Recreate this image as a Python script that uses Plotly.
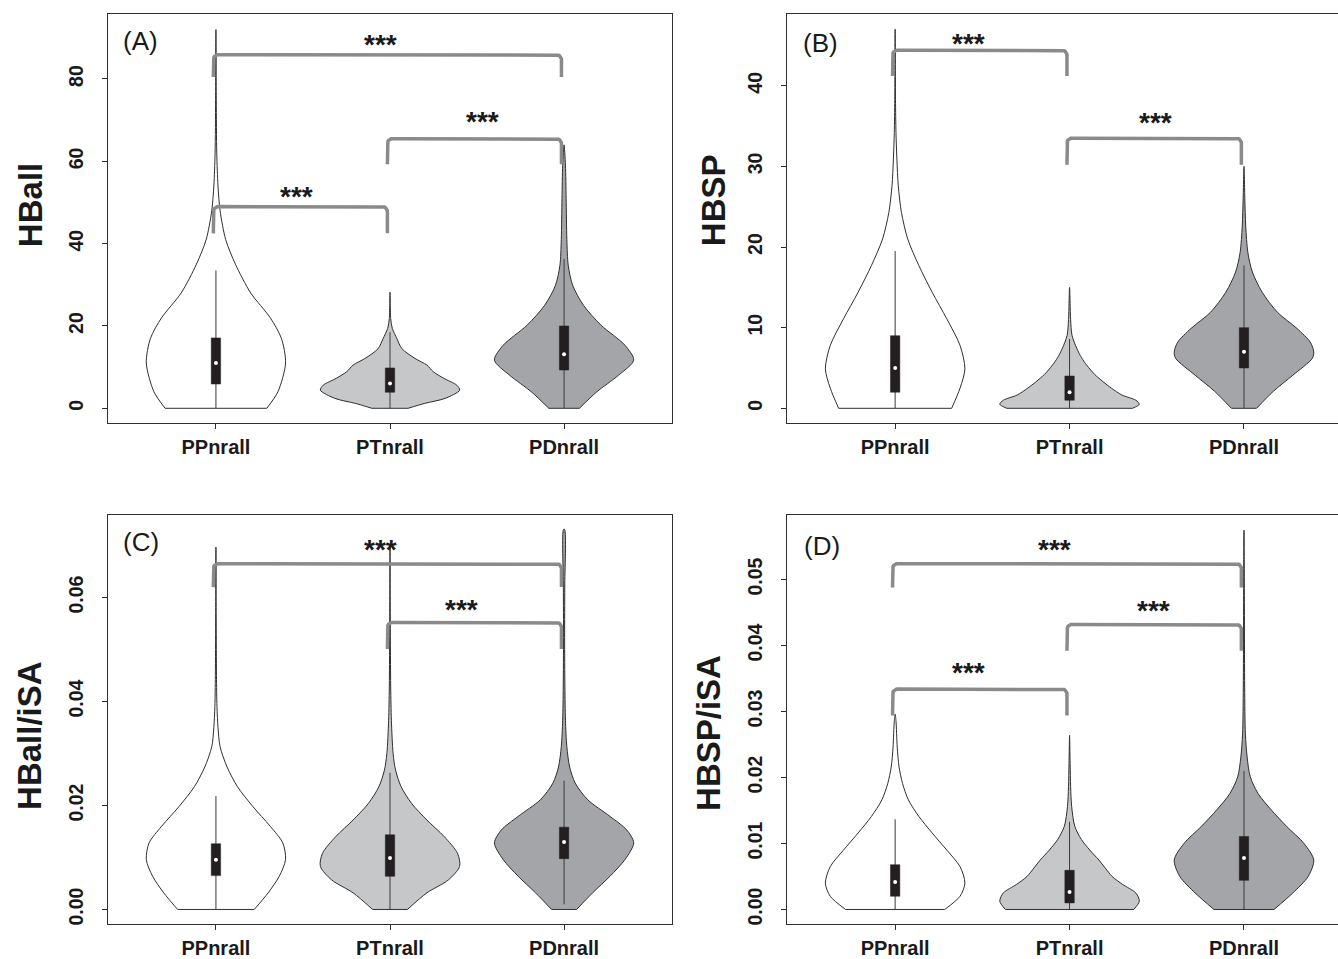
import numpy as np
import plotly.graph_objects as go

# ---------------- data ----------------
groups = ["PPnrall", "PTnrall", "PDnrall"]
group_fill = ["#ffffff", "#c6c7c9", "#a4a5a8"]

# violin profiles: value (y) and relative density (0..1)
A_PP_y = [0, 4, 11, 17, 22, 28, 35, 41, 48, 54, 62, 75, 92]
A_PP_w = [0.73, 0.89, 1.0, 0.94, 0.78, 0.50, 0.28, 0.14, 0.06, 0.03, 0.012, 0.005, 0]
A_PT_y = [0, 1.2, 2.4, 4.4, 5.6, 7.3, 8.9, 10.5, 12.1, 14.5, 16.9, 19.4, 21.8, 28.2]
A_PT_w = [0.26, 0.5, 0.79, 1.0, 0.96, 0.77, 0.62, 0.53, 0.36, 0.17, 0.1, 0.034, 0.01, 0]
A_PD_y = [0, 4, 8, 11.7, 15.3, 20.2, 25, 29.8, 34.7, 41, 51, 59, 64]
A_PD_w = [0.22, 0.47, 0.78, 1.0, 0.875, 0.53, 0.28, 0.125, 0.06, 0.04, 0.03, 0.02, 0]

B_PP_y = [0, 2.5, 4.9, 7.8, 11.1, 14.4, 17.7, 21, 24.3, 27.6, 30.9, 34.2, 38.3, 47]
B_PP_w = [0.81, 0.93, 1.0, 0.93, 0.74, 0.53, 0.34, 0.18, 0.09, 0.045, 0.025, 0.012, 0.005, 0]
B_PT_y = [0, 0.5, 1.0, 1.65, 2.5, 3.3, 4.2, 5.3, 6.3, 7.4, 9.05, 11, 15]
B_PT_w = [0.9, 1.0, 0.95, 0.75, 0.6, 0.48, 0.36, 0.25, 0.17, 0.105, 0.035, 0.015, 0]
B_PD_y = [0, 2.1, 4.1, 6.2, 7, 8.2, 9.9, 11.9, 14.4, 16.9, 19.3, 22.6, 26, 30]
B_PD_w = [0.18, 0.42, 0.7, 0.98, 1.0, 0.95, 0.76, 0.48, 0.26, 0.12, 0.056, 0.025, 0.012, 0]

C_PP_y = [0, 0.0032, 0.0064, 0.0096, 0.0128, 0.016, 0.0198, 0.0236, 0.0274, 0.0313, 0.035, 0.039, 0.045, 0.0555, 0.0697]
C_PP_w = [0.55, 0.75, 0.91, 1.0, 0.96, 0.78, 0.53, 0.31, 0.16, 0.06, 0.03, 0.015, 0.008, 0.004, 0]
C_PT_y = [0, 0.0032, 0.0057, 0.0083, 0.0108, 0.014, 0.0172, 0.0204, 0.0236, 0.0268, 0.03, 0.0364, 0.0428, 0.0555, 0.0696]
C_PT_w = [0.25, 0.53, 0.84, 1.0, 0.97, 0.78, 0.53, 0.31, 0.16, 0.08, 0.045, 0.02, 0.01, 0.004, 0]
C_PD_y = [0, 0.0032, 0.0064, 0.0096, 0.0128, 0.0153, 0.0179, 0.0211, 0.0243, 0.0274, 0.0313, 0.0364, 0.0428, 0.0523, 0.062, 0.0731]
C_PD_w = [0.18, 0.41, 0.66, 0.875, 1.0, 0.9, 0.66, 0.34, 0.16, 0.08, 0.04, 0.02, 0.012, 0.008, 0.01, 0.008]

D_PP_y = [0, 0.002, 0.004, 0.0065, 0.009, 0.0116, 0.0141, 0.0166, 0.0191, 0.0216, 0.0246, 0.0286, 0.0296]
D_PP_w = [0.71, 0.93, 1.0, 0.93, 0.74, 0.53, 0.34, 0.19, 0.106, 0.056, 0.03, 0.012, 0]
D_PT_y = [0, 0.00126, 0.0025, 0.0038, 0.005, 0.0063, 0.0075, 0.009, 0.0106, 0.0126, 0.0156, 0.0186, 0.0221, 0.0264]
D_PT_w = [0.92, 1.0, 0.95, 0.76, 0.61, 0.51, 0.42, 0.29, 0.17, 0.075, 0.03, 0.015, 0.008, 0]
D_PD_y = [0, 0.0025, 0.005, 0.0075, 0.01, 0.0126, 0.0151, 0.0176, 0.0201, 0.0231, 0.0266, 0.0337, 0.0437, 0.0513, 0.0575]
D_PD_w = [0.43, 0.7, 0.92, 1.0, 0.86, 0.61, 0.39, 0.2, 0.09, 0.045, 0.02, 0.01, 0.006, 0.004, 0]

# box statistics (per group PP, PT, PD)
A_q1 = [5.9, 3.9, 9.3];   A_med = [11.0, 6.0, 13.1];  A_q3 = [17.1, 9.8, 20.0]
A_wlo = [0, 0, 0];        A_whi = [33.5, 18.5, 36.3]
B_q1 = [2, 1, 5];         B_med = [5, 2, 7];          B_q3 = [9, 4, 10]
B_wlo = [0, 0, 0];        B_whi = [19.5, 8.6, 17.7]
C_q1 = [0.00651, 0.00638, 0.00977]; C_med = [0.00957, 0.0099, 0.01296]; C_q3 = [0.01264, 0.01436, 0.01583]
C_wlo = [0, 0, 0.001];    C_whi = [0.0218, 0.0263, 0.0248]
D_q1 = [0.00201, 0.001, 0.00442]; D_med = [0.00417, 0.00266, 0.00779]; D_q3 = [0.00678, 0.00593, 0.01106]
D_wlo = [0, 0, 0];        D_whi = [0.01367, 0.0133, 0.021]

# significance brackets
A_br_left = [1, 2, 1]; A_br_right = [3, 3, 2]
A_br_top = [85.9, 65.5, 49.0]; A_br_bot = [80.5, 59.3, 42.5]
A_star_x = [1.946, 2.53, 1.46]; A_star_y = [89.5, 70.8, 52.6]
B_br_left = [1, 2]; B_br_right = [2, 3]
B_br_top = [44.4, 33.5]; B_br_bot = [41.2, 30.2]
B_star_x = [1.42, 2.49]; B_star_y = [45.8, 36.1]
C_br_left = [1, 2]; C_br_right = [3, 3]
C_br_top = [0.0665, 0.0552]; C_br_bot = [0.0620, 0.0501]
C_star_x = [1.946, 2.41]; C_star_y = [0.0702, 0.0586]
D_br_left = [1, 2, 1]; D_br_right = [3, 3, 2]
D_br_top = [0.0524, 0.0432, 0.0334]; D_br_bot = [0.0488, 0.0392, 0.0294]
D_star_x = [1.916, 2.48, 1.42]; D_star_y = [0.0553, 0.0461, 0.0367]

A_yticks = [0, 20, 40, 60, 80]
B_yticks = [0, 10, 20, 30, 40]
C_yticks = [0.00, 0.02, 0.04, 0.06]
D_yticks = [0.00, 0.01, 0.02, 0.03, 0.04, 0.05]
ytitles = ["HBall", "HBSP", "HBall/iSA", "HBSP/iSA"]
panel_labels = ["(A)", "(B)", "(C)", "(D)"]

# ---------------- layout geometry (pixels) ----------------
W, H = 1338, 959
panels = [
    dict(key="A", xpx=(108, 672), ypx=(14, 425), xr=(0.38, 3.62), yr=(-3.63, 95.8),
         yt=A_yticks, fmt="d", mirror_y=True, title_pos=(30, 206), lab_pos=(140, 41),
         prof=[(A_PP_y, A_PP_w), (A_PT_y, A_PT_w), (A_PD_y, A_PD_w)],
         box=(A_q1, A_med, A_q3, A_wlo, A_whi),
         br=(A_br_left, A_br_right, A_br_top, A_br_bot, A_star_x, A_star_y)),
    dict(key="B", xpx=(787, 1338), ypx=(14, 425), xr=(0.38, 3.539), yr=(-1.85, 48.9),
         yt=B_yticks, fmt="d", mirror_y=False, title_pos=(713, 201), lab_pos=(820, 43),
         prof=[(B_PP_y, B_PP_w), (B_PT_y, B_PT_w), (B_PD_y, B_PD_w)],
         box=(B_q1, B_med, B_q3, B_wlo, B_whi),
         br=(B_br_left, B_br_right, B_br_top, B_br_bot, B_star_x, B_star_y)),
    dict(key="C", xpx=(108, 672), ypx=(517, 928), xr=(0.38, 3.62), yr=(-0.00282, 0.0759),
         yt=C_yticks, fmt=".2f", mirror_y=True, title_pos=(30, 739), lab_pos=(141, 544),
         prof=[(C_PP_y, C_PP_w), (C_PT_y, C_PT_w), (C_PD_y, C_PD_w)],
         box=(C_q1, C_med, C_q3, C_wlo, C_whi),
         br=(C_br_left, C_br_right, C_br_top, C_br_bot, C_star_x, C_star_y)),
    dict(key="D", xpx=(787, 1338), ypx=(517, 928), xr=(0.38, 3.539), yr=(-0.00222, 0.0598),
         yt=D_yticks, fmt=".2f", mirror_y=False, title_pos=(709, 736), lab_pos=(822, 548),
         prof=[(D_PP_y, D_PP_w), (D_PT_y, D_PT_w), (D_PD_y, D_PD_w)],
         box=(D_q1, D_med, D_q3, D_wlo, D_whi),
         br=(D_br_left, D_br_right, D_br_top, D_br_bot, D_star_x, D_star_y)),
]

FONT = "Liberation Sans, Arial, Helvetica, sans-serif"
LINE = "#2e2e2e"
BOXC = "#231f20"
BRC = "#8a8a8a"
HALF = 0.4      # max half-width of violins in x units
BOXHALF = 0.027

fig = go.Figure()
annotations = []
layout_axes = {}

for i, p in enumerate(panels):
    n = "" if i == 0 else str(i + 1)
    xa, ya = "x" + n, "y" + n
    layout_axes["xaxis" + n] = dict(
        domain=[p["xpx"][0] / W, p["xpx"][1] / W], range=list(p["xr"]), anchor=ya,
        tickvals=[1, 2, 3], ticktext=groups, ticks="outside", ticklen=5, tickcolor=LINE,
        showline=True, linecolor=LINE, linewidth=1.2, mirror=True,
        showgrid=False, zeroline=False, fixedrange=True, ticklabelstandoff=1,
        tickfont=dict(family=FONT, size=20, color="#1a1a1a", weight="bold"),
    )
    layout_axes["yaxis" + n] = dict(
        domain=[1 - p["ypx"][1] / H, 1 - p["ypx"][0] / H], range=list(p["yr"]), anchor=xa,
        tickvals=p["yt"], tickformat=p["fmt"], tickangle=-90, ticks="outside", ticklen=5,
        tickcolor=LINE, showline=True, linecolor=LINE, linewidth=1.2, mirror=p["mirror_y"],
        showgrid=False, zeroline=False, fixedrange=True, ticklabelstandoff=11,
        tickfont=dict(family=FONT, size=19.5, color="#1a1a1a", weight="bold"),
    )
    xppu = (p["xpx"][1] - p["xpx"][0]) / (p["xr"][1] - p["xr"][0])
    yppu = (p["ypx"][1] - p["ypx"][0]) / (p["yr"][1] - p["yr"][0])

    # violins
    for g, (ys, ws) in enumerate(p["prof"]):
        c = g + 1
        ys = list(ys); ws = list(ws)
        xr_side = [c + HALF * w for w in ws]
        xl_side = [c - HALF * w for w in ws]
        if ws[-1] == 0:
            px = xr_side + xl_side[-2::-1]
            py = ys + ys[-2::-1]
        else:
            px = xr_side + xl_side[::-1]
            py = ys + ys[::-1]
        fig.add_trace(go.Scatter(x=px, y=py, xaxis=xa, yaxis=ya, mode="lines",
                                 fill="toself", fillcolor=group_fill[g],
                                 line=dict(color=LINE, width=1, shape="spline", smoothing=0.8),
                                 hoverinfo="skip", showlegend=False))
        fig.add_trace(go.Scatter(x=[xl_side[0], xr_side[0]], y=[ys[0], ys[0]], xaxis=xa, yaxis=ya,
                                 mode="lines", line=dict(color=LINE, width=1),
                                 hoverinfo="skip", showlegend=False))
    # whiskers, boxes, medians
    q1, med, q3, wlo, whi = p["box"]
    wx, wy, bx, by = [], [], [], []
    for g in range(3):
        c = g + 1
        wx += [c, c, None]; wy += [wlo[g], whi[g], None]
        bx += [c - BOXHALF, c + BOXHALF, c + BOXHALF, c - BOXHALF, c - BOXHALF, None]
        by += [q1[g], q1[g], q3[g], q3[g], q1[g], None]
    fig.add_trace(go.Scatter(x=wx, y=wy, xaxis=xa, yaxis=ya, mode="lines",
                             line=dict(color="#3a3a3a", width=1), hoverinfo="skip", showlegend=False))
    fig.add_trace(go.Scatter(x=bx, y=by, xaxis=xa, yaxis=ya, mode="lines", fill="toself",
                             fillcolor=BOXC, line=dict(color=BOXC, width=0.5),
                             hoverinfo="skip", showlegend=False))
    fig.add_trace(go.Scatter(x=[1, 2, 3], y=med, xaxis=xa, yaxis=ya, mode="markers",
                             marker=dict(color="white", size=4, line=dict(width=0)),
                             hoverinfo="skip", showlegend=False))
    # brackets
    bl, brr, btop, bbot, sx, sy = p["br"]
    r = 5.0
    rx, ry = r / xppu, r / yppu
    t = np.linspace(0, np.pi / 2, 8)
    for k in range(len(bl)):
        x1, x2 = bl[k] - 0.015, brr[k] - 0.015
        top, bot = btop[k], bbot[k]
        xs = [x1] + list(x1 + rx - rx * np.cos(t)) + list(x2 - rx + rx * np.sin(t)) + [x2]
        ys_ = [bot] + list(top - ry + ry * np.sin(t)) + list(top - ry + ry * np.cos(t)) + [bot]
        fig.add_trace(go.Scatter(x=xs, y=ys_, xaxis=xa, yaxis=ya, mode="lines",
                                 line=dict(color=BRC, width=3.5), hoverinfo="skip", showlegend=False))
        annotations.append(dict(x=sx[k], y=sy[k], xref=xa, yref=ya, text="***", showarrow=False,
                                font=dict(family=FONT, size=28, color="#1a1a1a", weight="bold"),
                                xanchor="center", yanchor="middle", yshift=-5))
    tx, ty = p["title_pos"]
    annotations.append(dict(x=tx / W, y=1 - ty / H, xref="paper", yref="paper", text=ytitles[i],
                            showarrow=False, textangle=-90, xanchor="center", yanchor="middle",
                            font=dict(family=FONT, size=33, color="#1a1a1a", weight="bold")))
    lx, ly = p["lab_pos"]
    annotations.append(dict(x=lx / W, y=1 - ly / H, xref="paper", yref="paper", text=panel_labels[i],
                            showarrow=False, xanchor="center", yanchor="middle",
                            font=dict(family=FONT, size=26, color="#1a1a1a")))

fig.update_layout(width=W, height=H, margin=dict(l=0, r=0, t=0, b=0),
                  paper_bgcolor="white", plot_bgcolor="white",
                  annotations=annotations, showlegend=False, **layout_axes)
fig.write_html("out.html", config={"displayModeBar": False},
               post_script="document.body.style.margin='0px';document.body.style.overflow='hidden';")
